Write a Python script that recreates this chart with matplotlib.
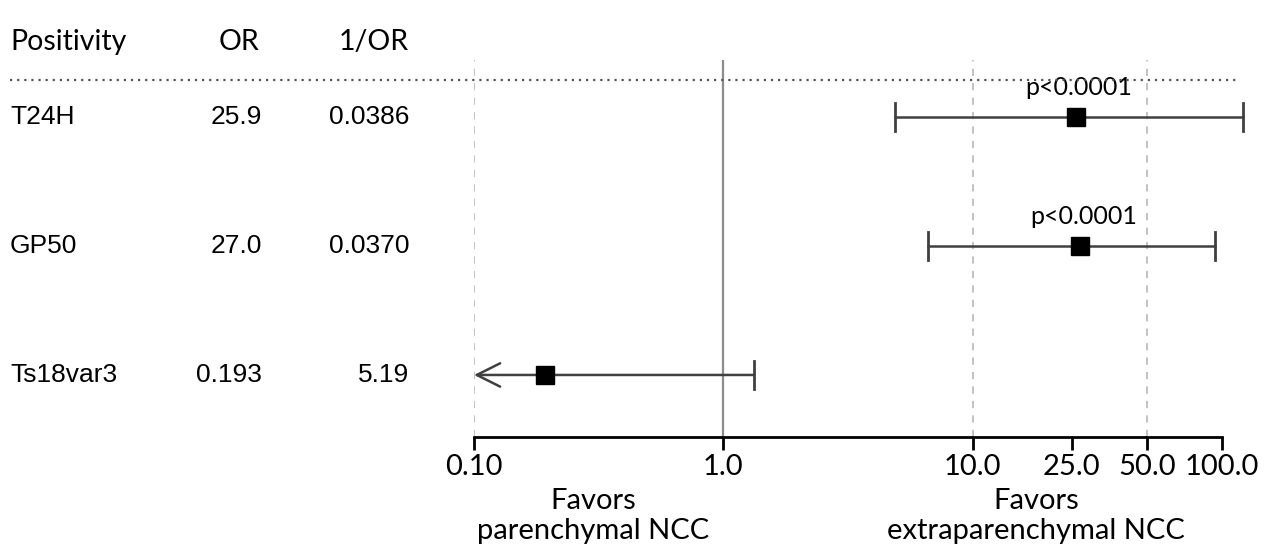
import numpy as np
import matplotlib.pyplot as plt
from matplotlib.lines import Line2D

# forest plot data
markers = ['T24H', 'GP50', 'Ts18var3']
or_vals = [25.9, 27.0, 0.193]
inv_or = ['0.0386', '0.0370', '5.19']
or_text = ['25.9', '27.0', '0.193']
ci_low = [4.9, 6.6, 0.1]
ci_high = [121.0, 94.0, 1.33]
pvals = ['p<0.0001', 'p<0.0001', '']
ticks = [0.1, 1.0, 10.0, 25.0, 50.0, 100.0]
tick_labels = ['0.10', '1.0', '10.0', '25.0', '50.0', '100.0']

W, H = 1279, 546
fig = plt.figure(figsize=(W / 100, H / 100), dpi=100)

# axes placed in pixel terms: 0.1 at x=474, decade = 249.3 px
left_px, right_px = 474, 1265
top_px, bot_px = 60, 437
ax = fig.add_axes([left_px / W, 1 - bot_px / H, (right_px - left_px) / W, (bot_px - top_px) / H])
ax.set_xscale('log')
ax.set_xlim(0.1, 10 ** (-1 + (right_px - left_px) / 249.3))
ax.set_ylim(0.519, 3.442)

ypos = [3, 2, 1]
ecol = '#404040'

for x in [0.1, 10, 50]:
    ax.axvline(x, color='#bdbdbd', lw=1.3, ls=(0, (4, 4)), zorder=1)
ax.axvline(1.0, color='#8c8c8c', lw=1.6, zorder=1)

for i, y in enumerate(ypos):
    lo, hi = ci_low[i], ci_high[i]
    if markers[i] == 'Ts18var3':
        ax.annotate('', xy=(lo, y), xytext=(hi, y),
                    arrowprops=dict(arrowstyle='->,head_length=1.2,head_width=0.6',
                                    color=ecol, lw=1.8, shrinkA=0, shrinkB=0,
                                    mutation_scale=14),
                    annotation_clip=False, zorder=2)
        ax.plot([hi, hi], [y - 0.11, y + 0.11], color=ecol, lw=2, zorder=2, clip_on=False)
    else:
        ax.plot([lo, hi], [y, y], color=ecol, lw=1.8, zorder=2, clip_on=False)
        for c in (lo, hi):
            ax.plot([c, c], [y - 0.11, y + 0.11], color=ecol, lw=2, zorder=2, clip_on=False)
    ax.plot(or_vals[i], y, marker='s', ms=13, color='black', zorder=3)
    if pvals[i]:
        ax.text(or_vals[i] * 1.03, y + 0.23, pvals[i], ha='center', va='center',
                fontsize=18, family='Lato')

for s in ['top', 'right', 'left']:
    ax.spines[s].set_visible(False)
ax.spines['bottom'].set_bounds(0.1, 100)
ax.spines['bottom'].set_linewidth(2)
ax.set_yticks([])
ax.set_xticks(ticks)
ax.set_xticklabels(tick_labels, family='Lato', fontsize=21)
ax.minorticks_off()
ax.tick_params(axis='x', length=9, width=2, pad=3)

# left table
fs_head = 20.5
fig.text(10 / W, 1 - 42 / H, 'Positivity', ha='left', va='center', fontsize=fs_head, family='Lato')
fig.text(259 / W, 1 - 42 / H, 'OR', ha='right', va='center', fontsize=fs_head, family='Lato')
fig.text(409 / W, 1 - 42 / H, '1/OR', ha='right', va='center', fontsize=fs_head, family='Lato')
fig.add_artist(Line2D([10 / W, 1236 / W], [1 - 80 / H, 1 - 80 / H], color='#555555',
                      lw=1.6, ls=(0, (1, 2.2))))

row_px = [117, 246, 375]
fs_row = 19
for i, yp in enumerate(row_px):
    fig.text(10 / W, 1 - yp / H, markers[i], ha='left', va='center', fontsize=fs_row,
             family='Liberation Sans')
    fig.text(262 / W, 1 - yp / H, or_text[i], ha='right', va='center', fontsize=fs_row,
             family='Liberation Sans')
    fig.text(409 / W, 1 - yp / H, inv_or[i], ha='right', va='center', fontsize=fs_row,
             family='Liberation Sans')

# favors labels
fs_fav = 21
fig.text(593 / W, 1 - 501 / H, 'Favors', ha='center', va='center', fontsize=fs_fav, family='Lato')
fig.text(593 / W, 1 - 531 / H, 'parenchymal NCC', ha='center', va='center', fontsize=fs_fav, family='Lato')
fig.text(1036 / W, 1 - 501 / H, 'Favors', ha='center', va='center', fontsize=fs_fav, family='Lato')
fig.text(1036 / W, 1 - 531 / H, 'extraparenchymal NCC', ha='center', va='center', fontsize=fs_fav, family='Lato')

fig.savefig('out.png', dpi=100)
